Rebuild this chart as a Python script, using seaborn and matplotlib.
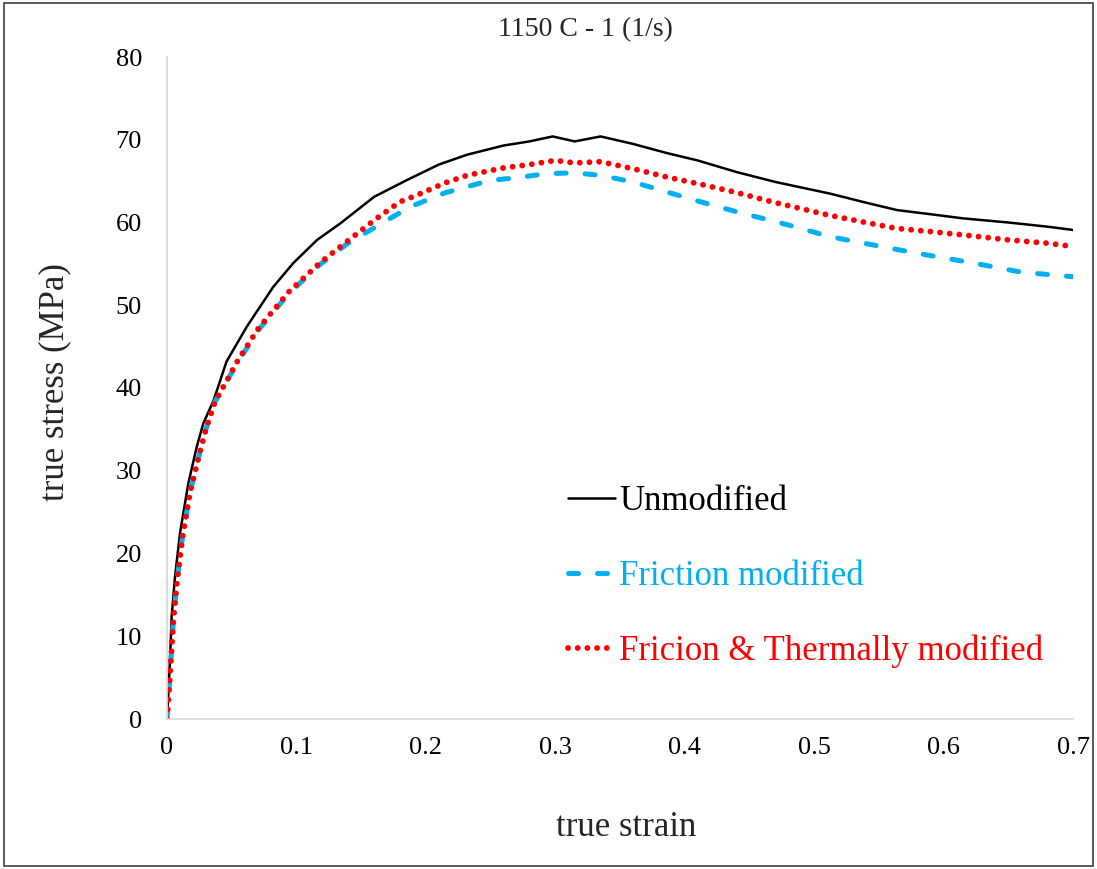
import numpy as np
import pandas as pd
import matplotlib
matplotlib.use("Agg")
import matplotlib.pyplot as plt
import seaborn as sns
from matplotlib.patches import Rectangle

# ---------------- data ----------------
unmod_strain = [0, 0.001, 0.0023, 0.0036, 0.0062, 0.01, 0.0165, 0.023, 0.028, 0.036,
                0.046, 0.0616, 0.082, 0.0976, 0.116, 0.134, 0.16, 0.185, 0.21, 0.232,
                0.26, 0.28, 0.298, 0.315, 0.335, 0.36, 0.386, 0.41, 0.44, 0.47,
                0.512, 0.54, 0.564, 0.59, 0.615, 0.65, 0.68, 0.7]
unmod_stress = [0, 3, 7.1, 12.4, 17.2, 22.4, 28.5, 32.9, 35.7, 38.5,
                43.2, 47.4, 52.2, 55.1, 57.9, 59.9, 63.1, 65.1, 67.0, 68.2,
                69.3, 69.8, 70.4, 69.8, 70.4, 69.5, 68.4, 67.5, 66.1, 64.9,
                63.5, 62.4, 61.5, 61.0, 60.5, 60.0, 59.5, 59.1]

fric_strain = [0, 0.001, 0.003, 0.005, 0.008, 0.012, 0.018, 0.025, 0.03, 0.037,
               0.055, 0.0706, 0.094, 0.118, 0.139, 0.168, 0.188, 0.215, 0.25, 0.27,
               0.293, 0.315, 0.335, 0.36, 0.386, 0.41, 0.44, 0.48, 0.512, 0.545,
               0.579, 0.623, 0.66, 0.7]
fric_stress = [0, 2, 7, 12, 17, 22, 27.5, 32, 35, 38.3,
               43.2, 47.0, 51.4, 54.9, 57.4, 60.1, 61.9, 63.6, 65.1, 65.4,
               65.9, 66.0, 65.7, 64.9, 63.7, 62.6, 61.3, 59.7, 58.3, 57.3,
               56.3, 55.1, 54.0, 53.45]

therm_strain = [0, 0.001, 0.003, 0.005, 0.008, 0.012, 0.018, 0.025, 0.03, 0.037,
                0.055, 0.0706, 0.094, 0.118, 0.139, 0.162, 0.18, 0.193, 0.215, 0.232,
                0.26, 0.28, 0.3, 0.315, 0.335, 0.36, 0.386, 0.41, 0.438, 0.47,
                0.511, 0.54, 0.563, 0.59, 0.615, 0.65, 0.68, 0.7]
therm_stress = [0, 2, 7, 12, 17, 22, 27.5, 32, 35, 38.3,
                43.4, 47.2, 51.6, 55.1, 57.7, 60.5, 62.5, 63.3, 64.8, 65.7,
                66.6, 67.0, 67.5, 67.2, 67.35, 66.5, 65.5, 64.7, 63.7, 62.4,
                60.9, 60.0, 59.3, 58.9, 58.5, 57.9, 57.5, 57.1]

series_names = ["Unmodified", "Friction modified", "Fricion & Thermally modified"]
x_ticks = [0, 0.1, 0.2, 0.3, 0.4, 0.5, 0.6, 0.7]
x_tick_labels = ["0", "0.1", "0.2", "0.3", "0.4", "0.5", "0.6", "0.7"]
y_ticks = [0, 10, 20, 30, 40, 50, 60, 70, 80]
title_text = "1150 C - 1 (1/s)"
x_label = "true strain"
y_label = "true stress (MPa)"

# ---------------- style ----------------
sns.set_theme(style="white")
plt.rcParams["font.family"] = ["Liberation Serif", "DejaVu Serif"]

colors = ["#000000", "#00B0F0", "#FF0000"]

W, H = 1097, 869
fig = plt.figure(figsize=(W / 100, H / 100), dpi=100)
ax = fig.add_axes([167 / W, 1 - 719 / H, (1073 - 167) / W, (719 - 57) / H])

df_u = pd.DataFrame({"strain": unmod_strain, "stress": unmod_stress})
df_f = pd.DataFrame({"strain": fric_strain, "stress": fric_stress})
df_t = pd.DataFrame({"strain": therm_strain, "stress": therm_stress})

sns.lineplot(data=df_u, x="strain", y="stress", ax=ax, color=colors[0],
             linewidth=1.8, label=series_names[0], sort=False)
sns.lineplot(data=df_f, x="strain", y="stress", ax=ax, color=colors[1],
             linewidth=3.6, label=series_names[1], sort=False)
sns.lineplot(data=df_t, x="strain", y="stress", ax=ax, color=colors[2],
             linewidth=4.2, label=series_names[2], sort=False)

lines = ax.get_lines()
lines[1].set_linestyle((0, (2.0, 3.8)))
lines[1].set_dash_capstyle("round")
lines[2].set_linestyle((0, (0.01, 1.65)))
lines[2].set_dash_capstyle("round")

ax.set_xlim(0, 0.7)
ax.set_ylim(0, 80)
ax.set_xticks(x_ticks)
ax.set_xticklabels(x_tick_labels)
ax.set_yticks(y_ticks)
ax.tick_params(axis="both", length=0, labelsize=19, colors="#000000")
ax.tick_params(axis="y", pad=18)
ax.tick_params(axis="x", pad=13)

for s in ["top", "right"]:
    ax.spines[s].set_visible(False)
for s in ["left", "bottom"]:
    ax.spines[s].set_color("#d9d9d9")
    ax.spines[s].set_linewidth(1.3)

ax.set_xlabel("")
ax.set_ylabel("")
fig.text(626 / W, 1 - 828 / H, x_label, fontsize=25, ha="center", va="center")
fig.text(55 / W, 1 - 382 / H, y_label, fontsize=25, ha="center", va="center",
         rotation=90)
fig.text(585 / W, 1 - 30 / H, title_text, fontsize=20, ha="center", va="center")

leg = ax.legend(loc="upper left", bbox_to_anchor=(568 / W, 1 - 485 / H),
                bbox_transform=fig.transFigure, frameon=False, fontsize=25,
                handlelength=1.35, handletextpad=0.12, labelspacing=1.2,
                borderpad=0, borderaxespad=0)
for txt, c in zip(leg.get_texts(), colors):
    txt.set_color(c)

# figure border
fig.patches.append(Rectangle((4 / W, 3 / H), (1093 - 4) / W, (866 - 3) / H,
                             transform=fig.transFigure, fill=False,
                             edgecolor="#404040", linewidth=1.2))

fig.savefig("out.png", dpi=100)
